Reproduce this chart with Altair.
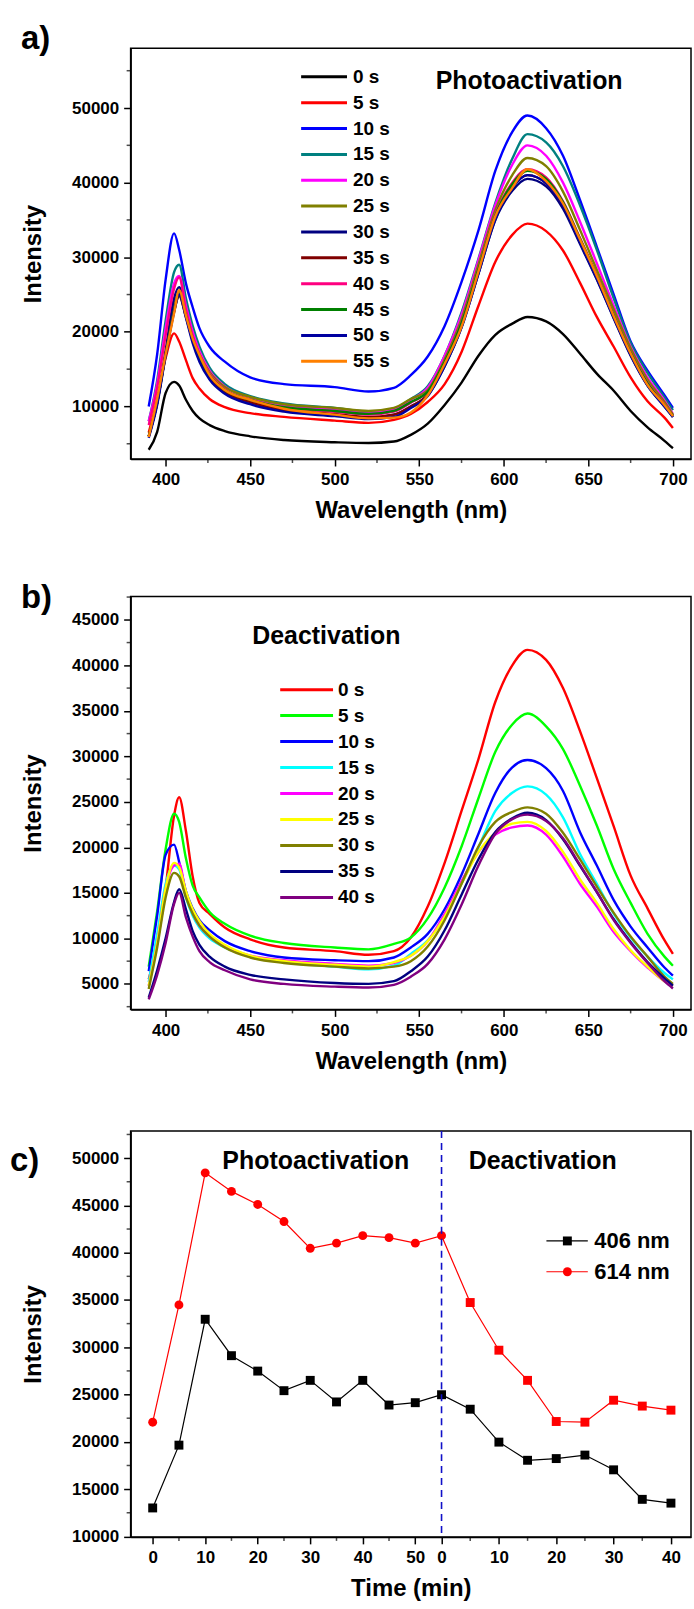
import altair as alt
import pandas as pd

FONT = "Liberation Sans"

# ---------------- shared wavelength grid (nm) ----------------
WL = [390, 395, 400, 405, 408, 412, 416, 420, 426, 435, 450, 470, 500, 520, 535, 545,
      555, 565, 575, 585, 595, 605, 614, 625, 635, 645, 655, 665, 675, 685, 695, 700]

# ---------------- panel a: photoactivation spectra ----------------
A_LABELS = ["0 s", "5 s", "10 s", "15 s", "20 s", "25 s", "30 s", "35 s", "40 s", "45 s", "50 s", "55 s"]
A_COLORS = ["#000000", "#FF0000", "#0000FF", "#008080", "#FF00FF", "#808000",
            "#000080", "#800000", "#FF0080", "#008000", "#0000A0", "#FF8000"]
A_0S = [4200, 6600, 11800, 13300, 12800, 10900, 9400, 8400, 7500, 6700, 6000, 5500, 5200, 5100, 5300, 6200,
        7700, 10200, 13200, 16800, 19600, 21100, 22000, 21400, 19700, 17100, 14400, 12100, 9400, 7200, 5400, 4400]
A_5S = [6500, 11000, 16500, 19800, 18700, 16200, 13800, 12400, 11000, 9900, 9100, 8600, 8100, 7800, 8200, 9000,
        10600, 13000, 17300, 23500, 29400, 33000, 34500, 33500, 30900, 26600, 22000, 18000, 13900, 10700, 8500, 7100]
A_10S = [10000, 17000, 27000, 33200, 31000, 26500, 23300, 20500, 18000, 16000, 13900, 13000, 12600, 12000, 12500, 14200,
         16700, 20800, 26700, 33600, 41600, 46800, 49000, 47300, 43600, 37700, 31400, 25000, 18700, 14800, 11500, 9800]
A_15S = [8000, 13500, 21500, 28000, 29000, 24500, 20800, 18000, 15200, 13000, 11400, 10400, 9800, 9300, 9700, 11000,
         12700, 16800, 22600, 29800, 37300, 43200, 46500, 45400, 42200, 37000, 31000, 24500, 18500, 14500, 11200, 9500]
A_20S = [8000, 13000, 20500, 26500, 27500, 23500, 20000, 17400, 14800, 12700, 11200, 10200, 9600, 9200, 9600, 10900,
         12500, 16800, 22300, 29600, 37000, 42400, 45000, 43600, 40000, 34800, 29200, 23500, 18000, 13900, 10800, 9000]
A_25S = [6000, 10500, 17000, 23500, 25400, 22300, 19300, 17000, 14600, 12600, 11300, 10300, 9800, 9400, 9800, 11000,
         12200, 16300, 21700, 29000, 36300, 41000, 43300, 42200, 38800, 33700, 28300, 23000, 17800, 13600, 10600, 8900]
A_30S = [6000, 10500, 17500, 24500, 26000, 22500, 19000, 16600, 14000, 12000, 10600, 9500, 8900, 8500, 8900, 10000,
         11500, 15400, 20600, 27800, 35000, 38900, 40500, 39500, 36500, 31800, 27000, 21800, 16800, 12800, 10000, 8600]
A_35S = [6000, 10500, 17000, 22800, 24800, 22000, 18800, 16500, 14000, 12000, 10600, 9600, 9000, 8600, 8900, 10000,
         11600, 15600, 20800, 28000, 35300, 39400, 41000, 39900, 36900, 32100, 27200, 22000, 17000, 12900, 10100, 8700]
A_40S = [7500, 12500, 19500, 25800, 27300, 23000, 19500, 17000, 14400, 12300, 10900, 9900, 9300, 8900, 9300, 10500,
         12000, 16000, 21300, 28500, 35800, 40000, 41800, 40700, 37500, 32600, 27600, 22300, 17300, 13200, 10300, 8800]
A_45S = [6000, 10500, 17000, 22800, 25000, 22200, 19000, 16700, 14200, 12200, 10900, 9900, 9400, 9000, 9400, 10600,
         12000, 16000, 21200, 28400, 35600, 39800, 41600, 40500, 37400, 32500, 27500, 22200, 17200, 13100, 10200, 8800]
A_50S = [5800, 10200, 16800, 22600, 25000, 21900, 18500, 16000, 13600, 11700, 10300, 9300, 8700, 8300, 8600, 9800,
         11400, 15400, 20600, 27800, 35100, 39300, 41000, 39900, 36900, 32000, 27100, 21900, 16900, 12800, 10000, 8600]
A_55S = [5900, 11000, 17000, 22500, 25600, 22200, 19100, 16900, 14200, 12200, 10900, 9700, 8900, 8400, 8500, 9200,
         11500, 15700, 20700, 28100, 35500, 39300, 41800, 40200, 37200, 32400, 27500, 22100, 17100, 12900, 10200, 8700]
A_SERIES = [A_0S, A_5S, A_10S, A_15S, A_20S, A_25S, A_30S, A_35S, A_40S, A_45S, A_50S, A_55S]

# ---------------- panel b: deactivation spectra ----------------
B_LABELS = ["0 s", "5 s", "10 s", "15 s", "20 s", "25 s", "30 s", "35 s", "40 s"]
B_COLORS = ["#FF0000", "#00FF00", "#0000FF", "#00FFFF", "#FF00FF", "#FFFF00", "#808000", "#000080", "#800080"]
B_0S = [5500, 9500, 15500, 23500, 25500, 21800, 16800, 13900, 12700, 11200, 9900, 9000, 8600, 8200, 8600, 10100,
        13500, 18300, 24000, 29700, 36000, 40000, 41700, 40600, 37500, 32800, 27600, 22300, 16900, 13300, 9800, 8300]
B_5S = [6900, 13000, 19800, 23700, 22800, 18800, 15800, 14500, 12900, 11600, 10300, 9500, 9000, 8800, 9400, 10100,
        12200, 15600, 20100, 25400, 30500, 33500, 34700, 33300, 30800, 26800, 22400, 17600, 13900, 10500, 8000, 7000]
B_10S = [6400, 12500, 19200, 20300, 18400, 15200, 13300, 12000, 10900, 9700, 8600, 7900, 7600, 7500, 7900, 9000,
         10500, 13200, 17000, 21500, 26000, 28800, 29600, 28700, 26200, 21700, 18000, 14200, 11300, 9000, 6800, 5900]
B_15S = [5200, 10500, 16000, 18000, 17600, 14500, 12500, 11200, 10000, 9000, 8000, 7400, 6900, 6600, 7000, 8300,
         9800, 12400, 16000, 20000, 24000, 26000, 26700, 25800, 23300, 19300, 16000, 12700, 10100, 8000, 6200, 5500]
B_20S = [4800, 9500, 15500, 18000, 18200, 15000, 12800, 11400, 10200, 9100, 8100, 7600, 7200, 7000, 7300, 8100,
         9700, 12700, 16300, 19500, 21400, 22200, 22400, 21400, 19000, 16000, 13500, 10700, 8600, 6800, 5300, 4800]
B_25S = [4800, 9500, 15500, 18300, 17800, 15200, 13200, 11900, 10500, 9300, 8100, 7500, 7100, 6900, 7400, 8100,
         9700, 12400, 16000, 19500, 21600, 22600, 22800, 21800, 19500, 16500, 13900, 11000, 8700, 6900, 5300, 4800]
B_30S = [4450, 9000, 14500, 17200, 16800, 14500, 12700, 11400, 10200, 9000, 7900, 7300, 6900, 6700, 6900, 7500,
         9100, 12000, 16000, 20100, 22800, 23900, 24400, 23700, 21600, 18700, 15700, 12800, 10200, 8000, 5800, 5000]
B_35S = [3500, 6500, 10000, 14000, 15400, 13200, 10800, 9300, 8000, 6900, 6000, 5500, 5100, 5000, 5300, 6400,
         8000, 10900, 14800, 18700, 21700, 23200, 23800, 23000, 20900, 18000, 15100, 12100, 9600, 7400, 5600, 4800]
B_40S = [3300, 6000, 9500, 13800, 15000, 12300, 10200, 8600, 7400, 6500, 5500, 5000, 4700, 4600, 4900, 5800,
         7200, 9900, 13700, 18000, 21500, 23100, 23600, 22900, 21000, 18100, 15100, 12000, 9500, 7300, 5300, 4500]
B_SERIES = [B_0S, B_5S, B_10S, B_15S, B_20S, B_25S, B_30S, B_35S, B_40S]

# ---------------- panel c: peak intensities vs time ----------------
C_PHOTO_T = [0, 5, 10, 15, 20, 25, 30, 35, 40, 45, 50, 55]
C_PHOTO_406 = [13010, 19650, 32960, 29110, 27480, 25410, 26500, 24220, 26500, 23890, 24140, 24980]
C_PHOTO_614 = [22080, 34480, 48440, 46480, 45100, 43290, 40460, 41010, 41800, 41590, 41010, 41800]
C_DEACT_T = [0, 5, 10, 15, 20, 25, 30, 35, 40]
C_DEACT_406 = [24980, 23450, 19970, 18050, 18230, 18600, 17040, 13920, 13520]
C_DEACT_614 = [41800, 34730, 29690, 26500, 22150, 22080, 24400, 23780, 23350]
C_LABELS = ["406 nm", "614 nm"]
C_COLORS = ["#000000", "#FF0000"]
C_XLABELS_PHOTO = [0, 10, 20, 30, 40, 50]
C_XLABELS_DEACT = [0, 10, 20, 30, 40]
C_XMINOR_PHOTO = [5, 15, 25, 35, 45]
C_XMINOR_DEACT = [5, 15, 25, 35]
DEACT_STRETCH = 1.092  # the deactivation segment is drawn slightly wider per minute

# ---------------- axis ticks ----------------
X_DOM = [379.3, 710.7]
X_MAJOR = [400, 450, 500, 550, 600, 650, 700]
X_MINOR = [425, 475, 525, 575, 625, 675]
A_YMAJOR = [10000, 20000, 30000, 40000, 50000]
A_YMINOR = [5000, 15000, 25000, 35000, 45000, 55000]
B_YMAJOR = [5000, 10000, 15000, 20000, 25000, 30000, 35000, 40000, 45000]
B_YMINOR = [2500, 7500, 12500, 17500, 22500, 27500, 32500, 37500, 42500, 47500]
C_YMAJOR = [10000, 15000, 20000, 25000, 30000, 35000, 40000, 45000, 50000]
C_YMINOR = [12500, 17500, 22500, 27500, 32500, 37500, 42500, 47500, 52500]

W = 562


def text_layer(txt, x, y, size, baseline="middle"):
    return alt.Chart(pd.DataFrame({"t": [txt]})).mark_text(
        align="left", baseline=baseline, font=FONT, fontSize=size, fontWeight="bold", color="black"
    ).encode(x=alt.value(x), y=alt.value(y), text="t:N")


def minor_ticks(xvals, yvals, xs, xaxis, ys, height):
    yt = alt.Chart(pd.DataFrame({"v": yvals})).mark_tick(size=4, thickness=1.5, color="black").encode(
        y=alt.Y("v:Q", scale=ys, axis=None), x=alt.value(-2))
    xt = alt.Chart(pd.DataFrame({"v": xvals})).mark_tick(size=4, thickness=1.5, color="black").encode(
        x=alt.X("v:Q", scale=xs, axis=xaxis), y=alt.value(height + 2))
    return [yt, xt]


def spectra_panel(labels, colors, series, ydom, height, ymajor, yminor, leg_top, leg_bottom,
                  leg_x0, leg_x1, leg_tx, note, note_x, note_y, tag, tag_x, tag_y, tag_baseline):
    rows = []
    for lab, vals in zip(labels, series):
        for w, v in zip(WL, vals):
            rows.append({"label": lab, "wl": w, "intensity": v})
    df = pd.DataFrame(rows)
    xs = alt.Scale(domain=X_DOM, nice=False, zero=False)
    xaxis = alt.Axis(values=X_MAJOR, format="d", title="Wavelength (nm)")
    ys = alt.Scale(domain=ydom, nice=False, zero=False)
    cs = alt.Scale(domain=labels, range=colors)
    lines = alt.Chart(df).mark_line(strokeWidth=2.4, interpolate="monotone").encode(
        x=alt.X("wl:Q", scale=xs, axis=xaxis),
        y=alt.Y("intensity:Q", scale=ys, axis=alt.Axis(values=ymajor, format="d", title="Intensity")),
        color=alt.Color("label:N", scale=cs, legend=None),
    )
    leg_df = pd.DataFrame({"label": labels})
    ly = alt.Y("label:N", scale=alt.Scale(type="point", domain=labels, range=[leg_top, leg_bottom], padding=0),
               axis=None)
    leg_rule = alt.Chart(leg_df).mark_rule(strokeWidth=3).encode(
        x=alt.value(leg_x0), x2=alt.value(leg_x1), y=ly, color=alt.Color("label:N", scale=cs, legend=None))
    leg_text = alt.Chart(leg_df).mark_text(
        align="left", baseline="middle", font=FONT, fontSize=19, fontWeight="bold", color="black"
    ).encode(x=alt.value(leg_tx), y=ly, text="label:N")
    layers = [lines] + minor_ticks(X_MINOR, yminor, xs, xaxis, ys, height) + [
        leg_rule, leg_text,
        text_layer(note, note_x, note_y, 25),
        text_layer(tag, tag_x, tag_y, 33, tag_baseline),
    ]
    return alt.layer(*layers).resolve_scale(y="independent").properties(width=W, height=height)


panel_a = spectra_panel(A_LABELS, A_COLORS, A_SERIES, [2960, 58020], 412, A_YMAJOR, A_YMINOR,
                        28.7, 314.0, 171, 217, 223, "Photoactivation", 306, 33, "a)", -110, -25, "top")
panel_b = spectra_panel(B_LABELS, B_COLORS, B_SERIES, [2200, 47550], 414, B_YMAJOR, B_YMINOR,
                        93.3, 301.7, 150, 203, 208, "Deactivation", 122, 40, "b)", -110, -15, "top")

# ---------------- panel c ----------------
C_H = 407
base = C_PHOTO_T[-1]
rows = []
for lab, photo, deact in [(C_LABELS[0], C_PHOTO_406, C_DEACT_406), (C_LABELS[1], C_PHOTO_614, C_DEACT_614)]:
    seq = 0
    for t, v in zip(C_PHOTO_T, photo):
        rows.append({"wl": lab, "pos": t, "value": v, "seq": seq,
                     "marker": "circle" if lab == "614 nm" else "square", "show": True})
        seq += 1
    for i, (t, v) in enumerate(zip(C_DEACT_T, deact)):
        rows.append({"wl": lab, "pos": base + t * DEACT_STRETCH, "value": v, "seq": seq,
                     "marker": "square", "show": i > 0})
        seq += 1
cdf = pd.DataFrame(rows)

c_xvals = C_XLABELS_PHOTO + [base + t * DEACT_STRETCH for t in C_XLABELS_DEACT]
c_xminor = C_XMINOR_PHOTO + [base + t * DEACT_STRETCH for t in C_XMINOR_DEACT]
label_expr = ("datum.value < %g ? format(datum.value, 'd') : format(round((datum.value - %g) / %g), 'd')"
              % (base - 2, base, DEACT_STRETCH))

cxs = alt.Scale(domain=[-4.2, 102.5], nice=False, zero=False)
cxaxis = alt.Axis(values=c_xvals, labelExpr=label_expr, title="Time (min)")
cys = alt.Scale(domain=[9950, 52860], nice=False, zero=False)
ccs = alt.Scale(domain=C_LABELS, range=C_COLORS)
shp = alt.Scale(domain=["square", "circle"], range=["square", "circle"])

c_line = alt.Chart(cdf).mark_line(strokeWidth=1.2).encode(
    x=alt.X("pos:Q", scale=cxs, axis=cxaxis),
    y=alt.Y("value:Q", scale=cys, axis=alt.Axis(values=C_YMAJOR, format="d", title="Intensity")),
    color=alt.Color("wl:N", scale=ccs, legend=None),
    order="seq:Q",
)
c_pts = alt.Chart(cdf).transform_filter("datum.show").mark_point(filled=True, size=80, opacity=1).encode(
    x=alt.X("pos:Q", scale=cxs, axis=cxaxis),
    y=alt.Y("value:Q", scale=cys, axis=None),
    color=alt.Color("wl:N", scale=ccs, legend=None),
    shape=alt.Shape("marker:N", scale=shp, legend=None),
)
c_div = alt.Chart(pd.DataFrame({"pos": [base]})).mark_rule(
    color="#1010C8", strokeWidth=1.6, strokeDash=[7, 5]).encode(x=alt.X("pos:Q", scale=cxs, axis=cxaxis))

cleg_df = pd.DataFrame({"wl": C_LABELS, "marker": ["square", "circle"]})
cly = alt.Y("wl:N", scale=alt.Scale(type="point", domain=C_LABELS, range=[110.2, 141.1], padding=0), axis=None)
c_leg_rule = alt.Chart(cleg_df).mark_rule(strokeWidth=1.2).encode(
    x=alt.value(417), x2=alt.value(458.5), y=cly, color=alt.Color("wl:N", scale=ccs, legend=None))
c_leg_pt = alt.Chart(cleg_df).mark_point(filled=True, size=80, opacity=1).encode(
    x=alt.value(438), y=cly, color=alt.Color("wl:N", scale=ccs, legend=None),
    shape=alt.Shape("marker:N", scale=shp, legend=None))
c_leg_text = alt.Chart(cleg_df).mark_text(
    align="left", baseline="middle", font=FONT, fontSize=22, fontWeight="bold", color="black"
).encode(x=alt.value(465), y=cly, text="wl:N")

panel_c = alt.layer(
    c_line, c_pts, c_div, *minor_ticks(c_xminor, C_YMINOR, cxs, cxaxis, cys, C_H),
    c_leg_rule, c_leg_pt, c_leg_text,
    text_layer("Photoactivation", 92, 30, 25),
    text_layer("Deactivation", 339, 30, 25),
    text_layer("c)", -121, 30, 33),
).resolve_scale(y="independent").properties(width=W, height=C_H)

chart = alt.vconcat(
    panel_a,
    alt.vconcat(panel_b, panel_c, spacing=122, bounds="flush").resolve_scale(color="independent",
                                                                             shape="independent"),
    spacing=138, bounds="flush",
).resolve_scale(
    color="independent", shape="independent"
).properties(
    padding={"left": 9, "top": 20, "right": 2, "bottom": 4}
).configure_axis(
    labelFont=FONT, labelFontSize=17, labelFontWeight="bold", labelColor="black",
    titleFont=FONT, titleFontSize=24, titleFontWeight="bold", titleColor="black",
    domainColor="black", domainWidth=1.5, tickColor="black", tickWidth=1.5, tickSize=7,
    grid=False, labelPadding=5, labelOverlap=False,
).configure_axisX(
    labelPadding=6, titlePadding=11,
).configure_axisY(
    titlePadding=26,
).configure_view(
    stroke="black", strokeWidth=1.5,
)

chart.save("out.html", embed_options={"renderer": "svg", "actions": False})
